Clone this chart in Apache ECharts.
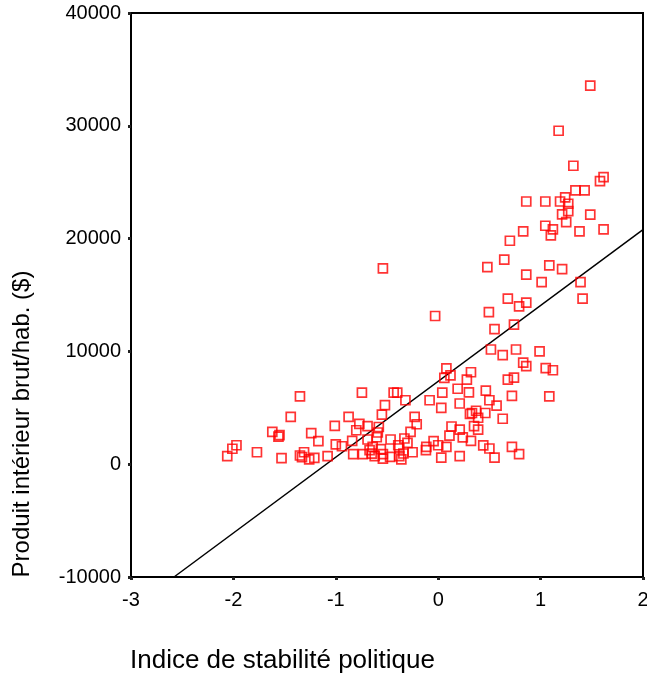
<!DOCTYPE html>
<html>
<head>
<meta charset="utf-8">
<script src="https://cdn.jsdelivr.net/npm/echarts@6/dist/echarts.min.js"></script>
<style>
html,body{margin:0;padding:0;background:#fff;overflow:hidden;}
#chart{width:647px;height:679px;}
</style>
</head>
<body>
<div id="chart"></div>
<script>
// Political stability index (x) and GDP per capita in $ (y)
const stabX = [
 -2.06,-2.01,-1.97,-1.77,-1.53,-1.62,-1.56,-1.55,-1.44,-1.35,-1.35,-1.31,-1.33,-1.26,-1.21,-1.24,-1.17,-1.08,
 -1.01,-1.00,-0.94,-0.875,-0.84,-0.83,-0.80,-0.77,-0.745,-0.735,-0.69,-0.69,-0.67,-0.65,-0.62,-0.64,-0.60,-0.59,
 -0.58,-0.56,-0.54,-0.54,-0.55,-0.52,-0.54,-0.47,-0.465,-0.435,-0.40,-0.32,-0.39,-0.38,-0.38,-0.36,-0.34,-0.33,
 -0.30,-0.27,-0.25,-0.23,-0.21,-0.116,-0.12,-0.084,-0.045,0.00,0.03,0.04,0.08,0.06,0.12,0.08,0.03,-0.03,
 0.19,0.21,0.13,0.21,0.11,0.24,0.32,0.21,0.30,0.32,0.28,0.31,0.33,0.37,0.39,0.46,0.35,0.39,0.44,0.50,0.55,
 0.465,0.50,0.57,0.63,0.72,0.68,0.74,0.72,0.79,0.515,0.63,0.76,0.83,0.86,0.99,1.05,1.12,1.085,
 0.55,0.74,0.495,0.79,0.86,0.68,1.41,1.39,1.01,0.86,1.21,1.085,0.48,0.645,0.70,0.83,1.046,1.12,1.10,1.38,
 1.615,1.25,1.21,1.485,1.27,1.27,1.24,1.19,1.046,0.86,1.34,1.43,1.58,1.615,1.32,1.176,1.485
];
const gdpY = [
 710,1370,1680,1060,530,2860,2440,2570,4190,6020,770,1060,620,420,560,2750,2040,710,
 3390,1750,1590,4190,2060,890,3010,3570,6350,890,3370,2190,1240,930,710,1530,2390,2810,
 3300,1330,890,500,4400,5230,17360,650,2190,6350,6350,5670,1680,1390,710,420,950,2280,
 1890,2860,1060,4190,3540,1530,1240,5670,2040,1680,5000,6350,8500,7660,7880,1530,590,13140,
 6690,5380,3340,3060,2540,2370,2060,710,6360,8150,7500,4460,4540,4740,4120,4540,3370,3060,1670,1390,580,
 6530,5670,5200,4030,6050,7500,7680,1530,890,10170,9670,10170,9010,8700,10010,8520,8330,6020,
 11980,12370,13490,13990,14320,14680,14680,16150,16150,16800,17300,17630,17480,18130,19810,20640,21140,20810,20280,20640,
 20810,21460,22140,22120,22440,23090,23650,23290,23290,23290,24270,24270,25090,25450,26460,29560,33570
];
// Fitted regression line end points
const regX = [-2.58, 2];
const regY = [-10000, 20800];
// Axis ticks
const xTicks = { min: -3, max: 2, interval: 1 };
const yTicks = { min: -10000, max: 40000, interval: 10000 };

const points = stabX.map((x, i) => [x, gdpY[i]]);
const regLine = regX.map((x, i) => [x, regY[i]]);

const FONT = '"Liberation Sans", Arial, sans-serif';
const chart = echarts.init(document.getElementById('chart'), null, {renderer: 'canvas'});
chart.setOption({
  animation: false,
  backgroundColor: '#fff',
  grid: { left: 131, right: 4, top: 13, bottom: 102, containLabel: false, outerBoundsMode: 'none',
          show: true, borderColor: '#000', borderWidth: 2, backgroundColor: 'transparent' },
  xAxis: {
    type: 'value', min: xTicks.min, max: xTicks.max, interval: xTicks.interval,
    splitLine: { show: false },
    axisLine: { show: true, onZero: false, lineStyle: { color: '#000', width: 2 } },
    axisTick: { show: true, length: 3, lineStyle: { color: '#222', width: 3 } },
    axisLabel: { color: '#000', fontSize: 20, fontFamily: FONT, margin: 13, hideOverlap: false }
  },
  yAxis: {
    type: 'value', min: yTicks.min, max: yTicks.max, interval: yTicks.interval,
    splitLine: { show: false },
    axisLine: { show: true, onZero: false, lineStyle: { color: '#000', width: 2 } },
    axisTick: { show: true, length: 3, lineStyle: { color: '#222', width: 3 } },
    axisLabel: { color: '#000', fontSize: 20, fontFamily: FONT, margin: 10, formatter: v => String(v) }
  },
  graphic: [
    { type: 'text', left: 130, top: 648, style: { text: 'Indice de stabilité politique', fill: '#000', font: '26px ' + FONT } },
    { type: 'text', x: 22, y: 424, rotation: Math.PI / 2, style: { text: 'Produit intérieur brut/hab. ($)', fill: '#000', font: '24px ' + FONT, align: 'center', verticalAlign: 'middle' } }
  ],
  series: [
    {
      type: 'line', data: regLine, symbol: 'none', silent: true,
      lineStyle: { color: '#000', width: 1.5 }, z: 2
    },
    {
      type: 'scatter', data: points, symbol: 'rect', symbolSize: 9,
      itemStyle: { color: 'rgba(0,0,0,0)', borderColor: '#ff0000', borderWidth: 1.7 }, z: 3
    }
  ]
});
</script>
</body>
</html>
